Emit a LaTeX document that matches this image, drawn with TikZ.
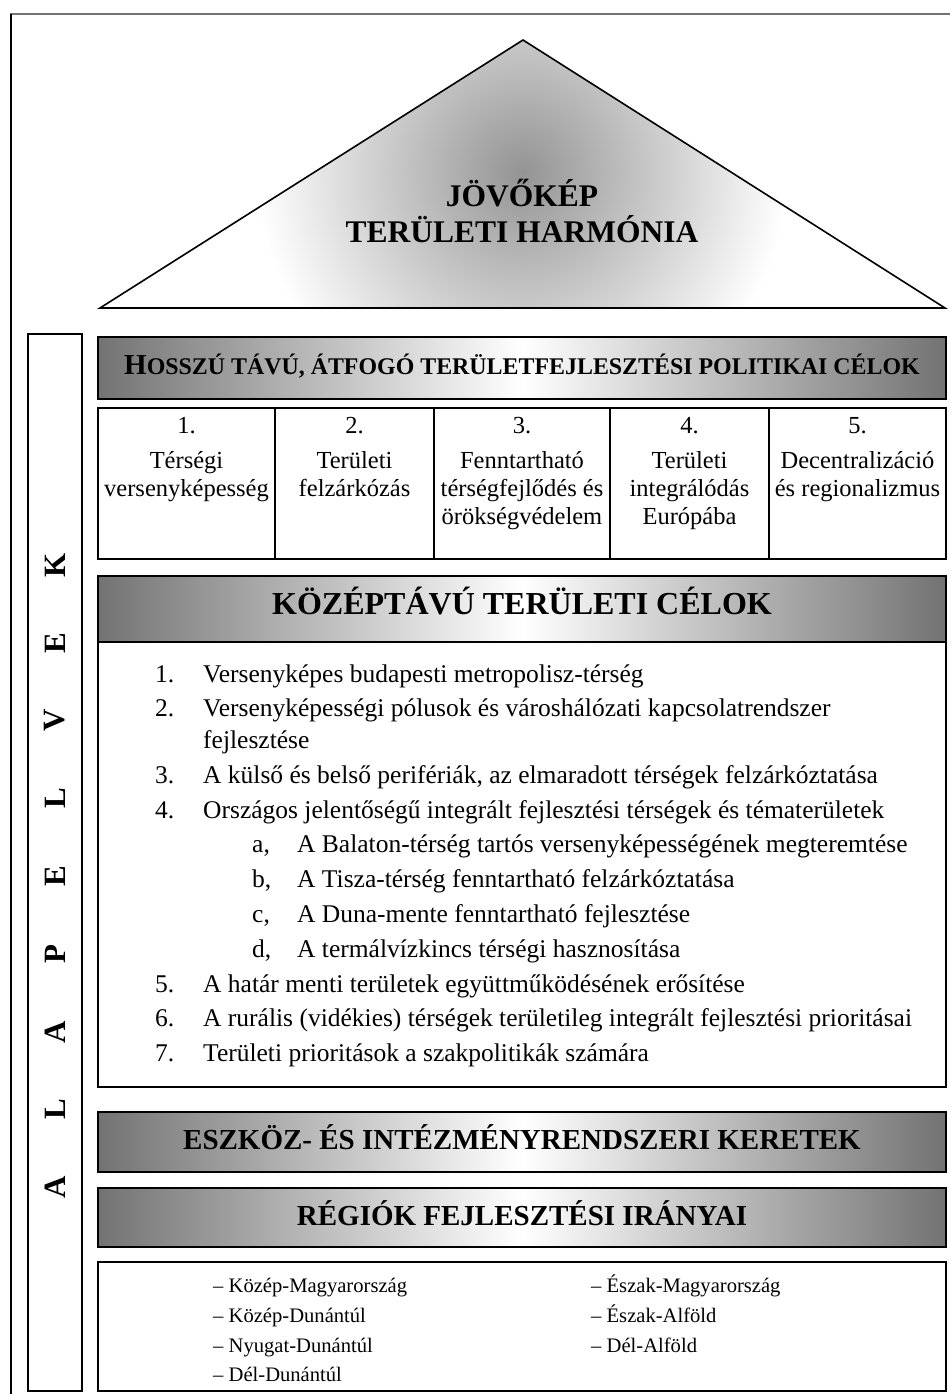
\documentclass[tikz,border=0pt]{standalone}
\usepackage{fontspec}
\setmainfont{Liberation Serif}
\begin{document}
\begin{tikzpicture}[x=1pt,y=-1pt,
  boxline/.style={draw=black, line width=2pt},
  hdrbar/.style={draw=black, line width=2pt, left color=black!55, right color=black!55, middle color=white},
  hdrtext/.style={anchor=base, inner sep=0pt, font=\bfseries\fontsize{29}{34}\selectfont},
  coltext/.style={anchor=base, inner sep=0pt, font=\fontsize{24.5}{28}\selectfont},
  lsttext/.style={anchor=base west, inner sep=0pt, font=\fontsize{25.5}{30}\selectfont},
  regtext/.style={anchor=base west, inner sep=0pt, font=\fontsize{20.6}{24}\selectfont},
  vletter/.style={rotate=90, inner sep=0pt, font=\bfseries\fontsize{31}{34}\selectfont},
  tritext/.style={anchor=base, inner sep=0pt, font=\bfseries\fontsize{31.5}{36}\selectfont}]
\useasboundingbox (0,0) rectangle (950,1394);
% outer frame (only top and left visible)
\draw[line width=2pt, black!55] (10,14.5) -- (950,14.5);
\draw[line width=2pt, black] (10.5,14) -- (10.5,1394);
% triangle
\begin{scope}
\clip (100,308) -- (523,40) -- (945,308) -- cycle;
\fill[white] (100,308) -- (523,40) -- (945,308) -- cycle;
\shade[inner color=black!42, outer color=white] (522,172) ellipse (265 and 270);
\end{scope}
\draw[line width=1.6pt, line join=miter] (100,308) -- (523,40) -- (945,308) -- cycle;
\node[tritext] (jk1) at (522,206) {JÖVŐKÉP};
\node[tritext] (jk2) at (522,242.5) {TERÜLETI HARMÓNIA};
% vertical ALAPELVEK box
\draw[boxline] (28,334) rectangle (82,1391);
\foreach \l/\yy/\nm in {A/1187/v1, L/1109/v2, A/1032/v3, P/954/v4, E/876/v5, L/798/v6, V/720/v7, E/643/v8, K/565/v9}
  \node[vletter] (\nm) at (55,\yy) {\l};
% header 1
\draw[hdrbar] (98,337) rectangle (946,399);
\node[anchor=base, inner sep=0pt, font=\bfseries] (h1) at (522,374)
  {{\fontsize{29}{34}\selectfont H}{\fontsize{23.9}{28}\selectfont OSSZÚ TÁVÚ, ÁTFOGÓ TERÜLETFEJLESZTÉSI POLITIKAI CÉLOK}};
% five columns
\draw[boxline] (98,408) rectangle (946,559);
\foreach \xx in {275,434,610,769} \draw[boxline] (\xx,408) -- (\xx,559);
\node[coltext] (c1a) at (186.5,433) {1.};
\node[coltext] (c1b) at (186.5,468) {Térségi};
\node[coltext] (c1c) at (186.5,496) {versenyképesség};
\node[coltext] (c2a) at (354.5,433) {2.};
\node[coltext] (c2b) at (354.5,468) {Területi};
\node[coltext] (c2c) at (354.5,496) {felzárkózás};
\node[coltext] (c3a) at (522,433) {3.};
\node[coltext] (c3b) at (522,468) {Fenntartható};
\node[coltext] (c3c) at (522,496) {térségfejlődés és};
\node[coltext] (c3d) at (522,524) {örökségvédelem};
\node[coltext] (c4a) at (689.5,433) {4.};
\node[coltext] (c4b) at (689.5,468) {Területi};
\node[coltext] (c4c) at (689.5,496) {integrálódás};
\node[coltext] (c4d) at (689.5,524) {Európába};
\node[coltext] (c5a) at (857.5,433) {5.};
\node[coltext] (c5b) at (857.5,468) {Decentralizáció};
\node[coltext] (c5c) at (857.5,496) {és regionalizmus};
% header 2 and list
\draw[boxline] (98,642) rectangle (946,1087);
\draw[hdrbar] (98,576) rectangle (946,642);
\node[hdrtext, font=\bfseries\fontsize{32}{37}\selectfont] (h2) at (522,614) {KÖZÉPTÁVÚ TERÜLETI CÉLOK};
\node[lsttext] (n1) at (155,682) {1.};
\node[lsttext] (t1) at (203,682) {Versenyképes budapesti metropolisz-térség};
\node[lsttext] (n2) at (155,716.7) {2.};
\node[lsttext] (t2) at (203,716.7) {Versenyképességi pólusok és városhálózati kapcsolatrendszer};
\node[lsttext] (t2b) at (203,748) {fejlesztése};
\node[lsttext] (n3) at (155,783.3) {3.};
\node[lsttext] (t3) at (203,783.3) {A külső és belső perifériák, az elmaradott térségek felzárkóztatása};
\node[lsttext] (n4) at (155,818.1) {4.};
\node[lsttext] (t4) at (203,818.1) {Országos jelentőségű integrált fejlesztési térségek és tématerületek};
\node[lsttext] (na) at (252,852.9) {a,};
\node[lsttext] (ta) at (297,852.9) {A Balaton-térség tartós versenyképességének megteremtése};
\node[lsttext] (nb) at (252,887.7) {b,};
\node[lsttext] (tb) at (297,887.7) {A Tisza-térség fenntartható felzárkóztatása};
\node[lsttext] (nc) at (252,922.5) {c,};
\node[lsttext] (tc) at (297,922.5) {A Duna-mente fenntartható fejlesztése};
\node[lsttext] (nd) at (252,957.3) {d,};
\node[lsttext] (td) at (297,957.3) {A termálvízkincs térségi hasznosítása};
\node[lsttext] (n5) at (155,992.1) {5.};
\node[lsttext] (t5) at (203,992.1) {A határ menti területek együttműködésének erősítése};
\node[lsttext] (n6) at (155,1026.9) {6.};
\node[lsttext] (t6) at (203,1026.9) {A rurális (vidékies) térségek területileg integrált fejlesztési prioritásai};
\node[lsttext] (n7) at (155,1061.7) {7.};
\node[lsttext] (t7) at (203,1061.7) {Területi prioritások a szakpolitikák számára};
% header 3
\draw[hdrbar] (98,1112) rectangle (946,1172);
\node[hdrtext] (h3) at (522,1149) {ESZKÖZ- ÉS INTÉZMÉNYRENDSZERI KERETEK};
% header 4
\draw[hdrbar] (98,1188) rectangle (946,1247);
\node[hdrtext] (h4) at (522,1225) {RÉGIÓK FEJLESZTÉSI IRÁNYAI};
% regions box
\draw[boxline] (98,1262) rectangle (946,1391);
\node[regtext] (r1) at (213,1292) {– Közép-Magyarország};
\node[regtext] (r2) at (213,1322) {– Közép-Dunántúl};
\node[regtext] (r3) at (213,1352) {– Nyugat-Dunántúl};
\node[regtext] (r4) at (213,1381) {– Dél-Dunántúl};
\node[regtext] (r5) at (591,1292) {– Észak-Magyarország};
\node[regtext] (r6) at (591,1322) {– Észak-Alföld};
\node[regtext] (r7) at (591,1352) {– Dél-Alföld};
\end{tikzpicture}
\end{document}
